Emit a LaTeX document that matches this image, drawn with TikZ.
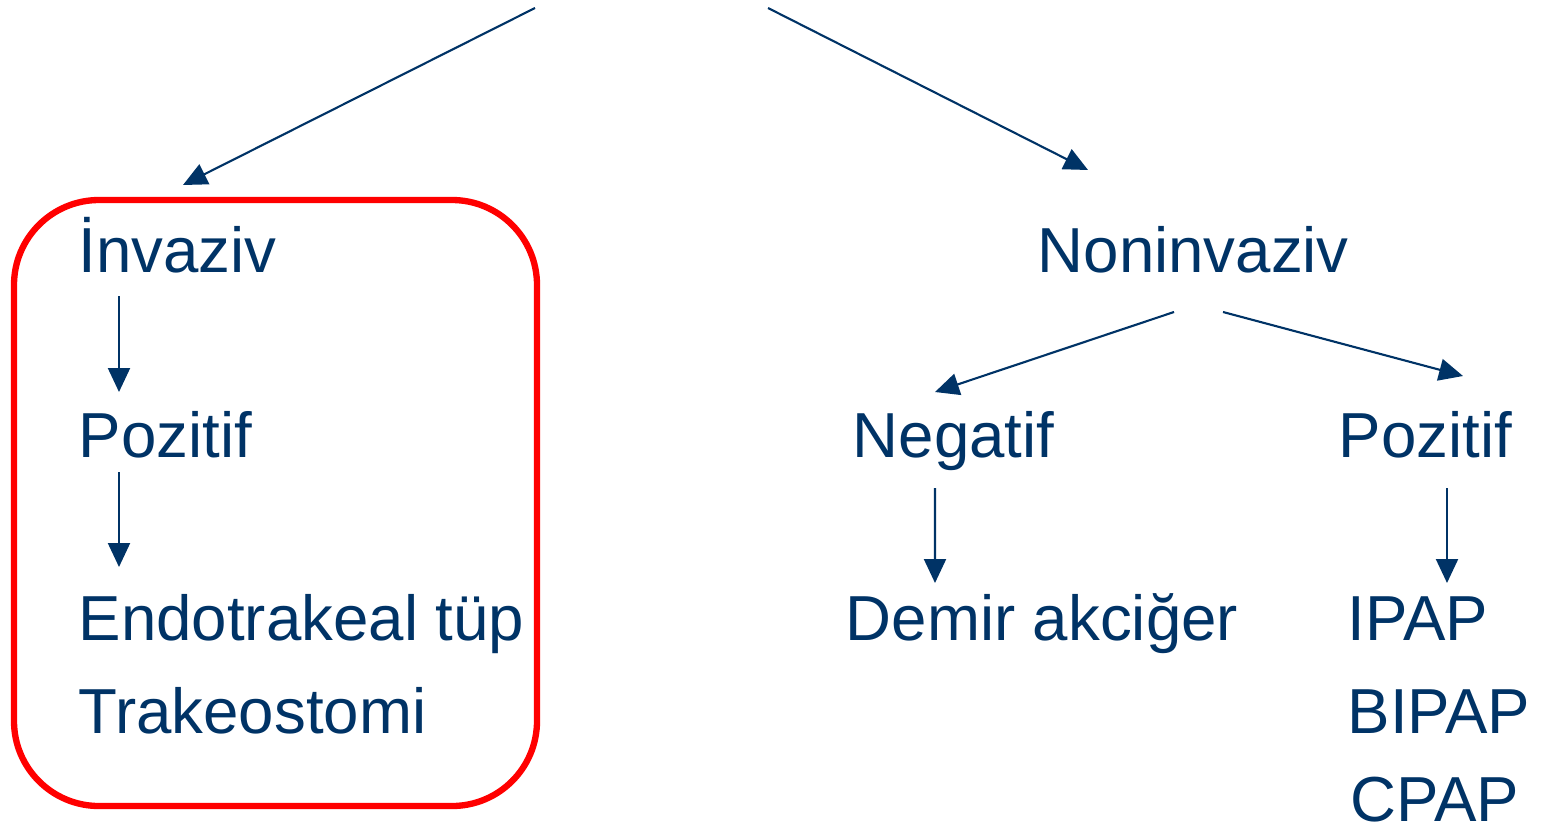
\documentclass[tikz,border=0pt]{standalone}
\usepackage{fontspec}
\setmainfont{Liberation Sans}
\definecolor{ventnavy}{RGB}{0, 51, 102}
\definecolor{boxred}{RGB}{255, 0, 0}
\usepackage{tikz}
\usetikzlibrary{arrows.meta, positioning, calc}

\begin{document}
\begin{tikzpicture}[
    lbl/.style={anchor=base west, inner sep=0pt, text=ventnavy, font=\fontsize{18.1}{21}\selectfont},
    arr/.style={draw=ventnavy, line width=0.6pt, -{Triangle[length=0.24cm, width=0.22cm]}}
  ]
  \useasboundingbox (0, 0) rectangle (15.45, -8.28);

  % left branch
  \node[lbl] (inv) at (0.78, -2.72) {İnvaziv};
  \node[lbl] (poz1) at (0.78, -4.57) {Pozitif};
  \node[lbl] (endo) at (0.78, -6.40) {Endotrakeal tüp};
  \node[lbl] (trak) at (0.78, -7.33) {Trakeostomi};

  % right branch
  \node[lbl] (noninv) at (10.37, -2.72) {Noninvaziv};
  \node[lbl] (neg) at (8.52, -4.57) {Negatif};
  \node[lbl] (poz2) at (13.38, -4.57) {Pozitif};
  \node[lbl] (demir) at (8.45, -6.40) {Demir akciğer};
  \node[lbl] (ipap) at (13.47, -6.40) {IPAP};
  \node[lbl] (bipap) at (13.47, -7.33) {BIPAP};
  \node[lbl] (cpap) at (13.50, -8.21) {CPAP};

  \draw[draw=boxred, line width=1.8pt, rounded corners=0.85cm] (0.14, -2.00) rectangle (5.37, -8.06);

  % arrows
  \coordinate (topl) at (5.35, -0.08);
  \coordinate (topr) at (7.68, -0.08);
  \draw[arr] (topl) -- ($(inv.base west)+(1.05, 0.87)$);
  \draw[arr] (topr) -- ($(noninv.base west)+(0.51, 1.02)$);
  \draw[arr] ($(inv.base west)+(0.41, -0.24)$) -- ($(poz1.base west)+(0.41, 0.65)$);
  \draw[arr] ($(poz1.base west)+(0.41, -0.15)$) -- ($(endo.base west)+(0.41, 0.73)$);
  \draw[arr] ($(noninv.base west)+(1.37, -0.40)$) -- ($(neg.base west)+(0.83, 0.65)$);
  \draw[arr] ($(noninv.base west)+(1.86, -0.40)$) -- ($(poz2.base west)+(1.25, 0.81)$);
  \draw[arr] ($(neg.base west)+(0.83, -0.31)$) -- ($(demir.base west)+(0.90, 0.57)$);
  \draw[arr] ($(poz2.base west)+(1.09, -0.31)$) -- ($(ipap.base west)+(1.00, 0.57)$);
\end{tikzpicture}
\end{document}
